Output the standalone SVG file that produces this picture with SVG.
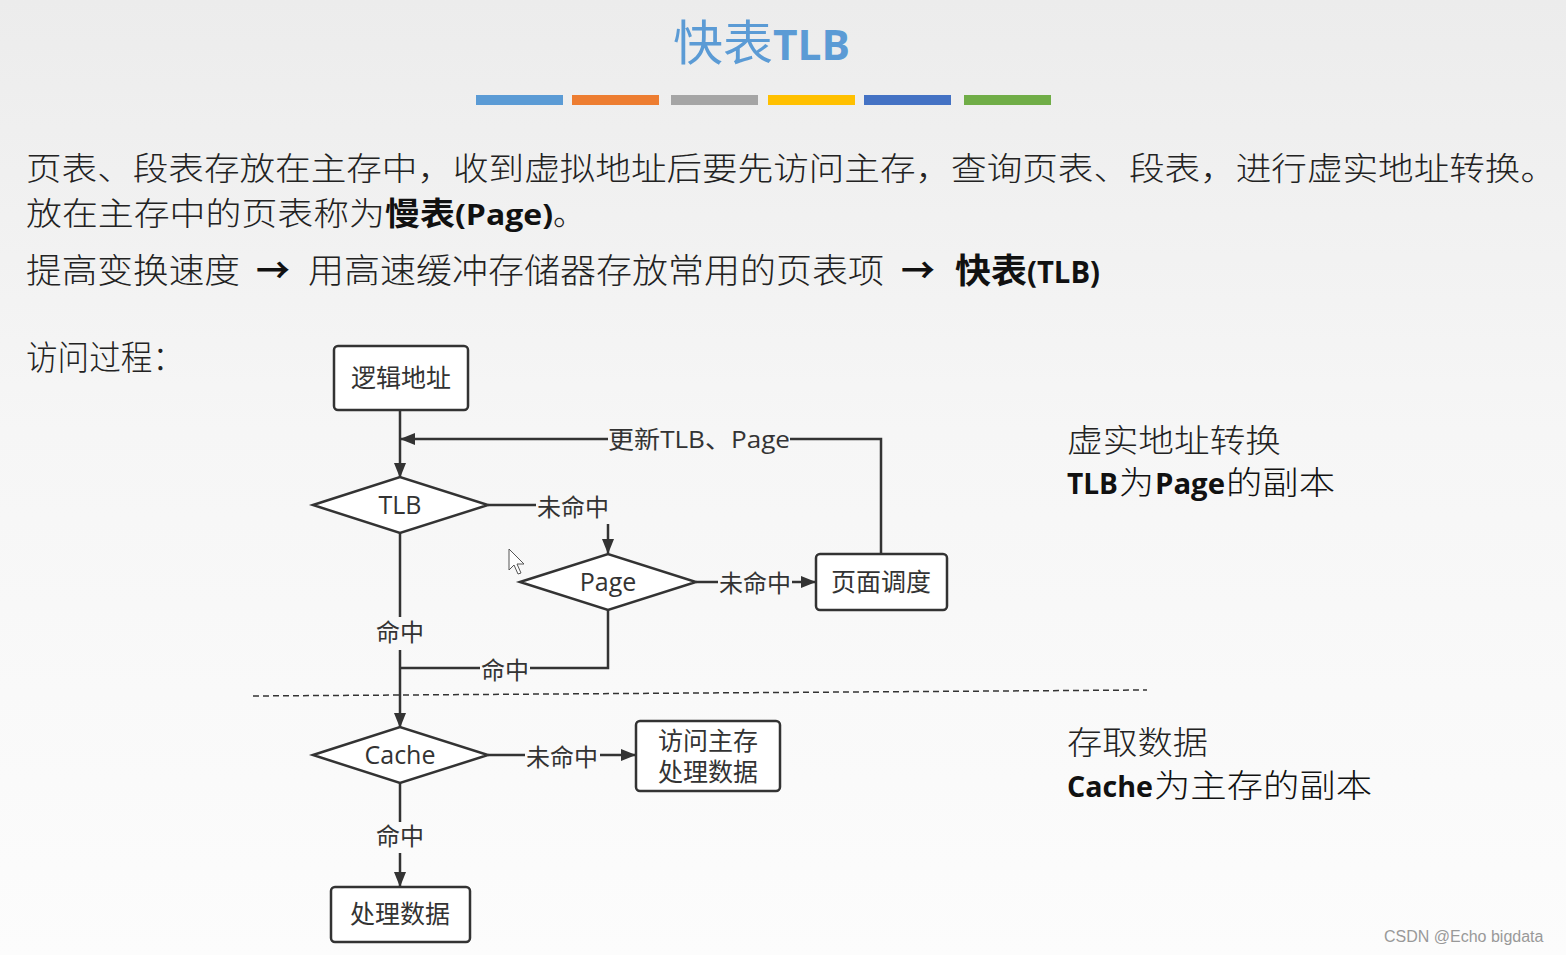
<svg xmlns="http://www.w3.org/2000/svg" width="1566" height="955" viewBox="0 0 1566 955">
<defs>
<linearGradient id="bg" x1="0" y1="0" x2="0" y2="1">
<stop offset="0" stop-color="#ececec"/>
<stop offset="0.45" stop-color="#f6f6f6"/>
<stop offset="1" stop-color="#fcfcfc"/>
</linearGradient>
<marker id="arr" viewBox="0 0 15 12" refX="14" refY="6" markerWidth="15" markerHeight="12" markerUnits="userSpaceOnUse" orient="auto">
<path d="M0,0 L15,6 L0,12 Z" fill="#333"/>
</marker>
</defs>
<style>
.cn{font-family:"Noto Sans CJK SC",sans-serif;fill:#222;font-weight:300}
.bd{font-family:"Open Sans","Noto Sans CJK SC",sans-serif;font-weight:700;fill:#111}
.dg{font-family:"Open Sans","Noto Sans CJK SC",sans-serif;fill:#333}
.box{fill:#fff;stroke:#333;stroke-width:2.5}
.ln{fill:none;stroke:#333;stroke-width:2.5}
.lbl{font-size:24px;text-anchor:middle}
.nd{font-size:25px;text-anchor:middle}
</style>
<rect width="1566" height="955" fill="url(#bg)"/>

<g id="title">
<text x="673" y="60" font-family="Noto Sans CJK SC,sans-serif" font-size="48" fill="#5b9bd5" textLength="100" lengthAdjust="spacingAndGlyphs">快表</text>
<text x="773" y="60" font-family="Open Sans,sans-serif" font-weight="700" font-size="42" fill="#5b9bd5" textLength="77" lengthAdjust="spacingAndGlyphs">TLB</text>
</g>
<g id="bars">
<rect x="476" y="95" width="87" height="10" fill="#5b9bd5"/>
<rect x="572" y="95" width="87" height="10" fill="#ed7d31"/>
<rect x="671" y="95" width="87" height="10" fill="#a5a5a5"/>
<rect x="768" y="95" width="87" height="10" fill="#ffc000"/>
<rect x="864" y="95" width="87" height="10" fill="#4472c4"/>
<rect x="964" y="95" width="87" height="10" fill="#70ad47"/>
</g>

<g id="intro">
<text class="cn" x="26" y="180" font-size="32" textLength="1530" lengthAdjust="spacingAndGlyphs">页表、段表存放在主存中，收到虚拟地址后要先访问主存，查询页表、段表，进行虚实地址转换。</text>
<text class="cn" x="26" y="225" font-size="32" textLength="359" lengthAdjust="spacingAndGlyphs">放在主存中的页表称为</text>
<text class="cn" x="385" y="225" font-size="32" style="font-weight:700;fill:#111" textLength="70" lengthAdjust="spacingAndGlyphs">慢表</text>
<text class="bd" x="455" y="225" font-size="29" textLength="98" lengthAdjust="spacingAndGlyphs">(Page)</text>
<text class="cn" x="553" y="225" font-size="32">。</text>
<text class="cn" x="26" y="283" font-size="34" textLength="214" lengthAdjust="spacingAndGlyphs">提高变换速度</text>
<text class="bd" x="256" y="283" font-size="34">→</text>
<text class="cn" x="308" y="283" font-size="34" textLength="576" lengthAdjust="spacingAndGlyphs">用高速缓冲存储器存放常用的页表项</text>
<text class="bd" x="901" y="283" font-size="34">→</text>
<text class="cn" x="955" y="283" font-size="34" style="font-weight:700;fill:#111" textLength="72" lengthAdjust="spacingAndGlyphs">快表</text>
<text class="bd" x="1027" y="283" font-size="30" textLength="73" lengthAdjust="spacingAndGlyphs">(TLB)</text>
<text class="cn" x="26" y="370" font-size="34" textLength="158" lengthAdjust="spacingAndGlyphs">访问过程：</text>
</g>

<g id="notes">
<text class="cn" x="1067" y="452" font-size="32" textLength="214" lengthAdjust="spacingAndGlyphs">虚实地址转换</text>
<text class="bd" x="1067" y="494" font-size="29" textLength="51" lengthAdjust="spacingAndGlyphs">TLB</text>
<text class="cn" x="1119" y="494" font-size="32" style="fill:#111" textLength="35" lengthAdjust="spacingAndGlyphs">为</text>
<text class="bd" x="1155" y="494" font-size="29" textLength="70" lengthAdjust="spacingAndGlyphs">Page</text>
<text class="cn" x="1226" y="494" font-size="32" style="fill:#111" textLength="109" lengthAdjust="spacingAndGlyphs">的副本</text>
<text class="cn" x="1067" y="754" font-size="32" textLength="141" lengthAdjust="spacingAndGlyphs">存取数据</text>
<text class="bd" x="1067" y="797" font-size="29" textLength="86" lengthAdjust="spacingAndGlyphs">Cache</text>
<text class="cn" x="1154" y="797" font-size="32" style="fill:#111" textLength="218" lengthAdjust="spacingAndGlyphs">为主存的副本</text>
</g>

<g id="connectors">
<line class="ln" x1="400" y1="410" x2="400" y2="477" marker-end="url(#arr)"/>
<polyline class="ln" points="881,554 881,439 790,439"/>
<line class="ln" x1="608" y1="439" x2="401" y2="439" marker-end="url(#arr)"/>
<text class="dg lbl" x="699" y="448" textLength="182" lengthAdjust="spacingAndGlyphs">更新TLB、Page</text>
<line class="ln" x1="488" y1="505" x2="536" y2="505"/>
<text class="dg lbl" x="573" y="516">未命中</text>
<line class="ln" x1="608" y1="524" x2="608" y2="553" marker-end="url(#arr)"/>
<line class="ln" x1="696" y1="582" x2="718" y2="582"/>
<text class="dg lbl" x="755" y="592">未命中</text>
<line class="ln" x1="792" y1="582" x2="815" y2="582" marker-end="url(#arr)"/>
<polyline class="ln" points="608,610 608,668 530,668"/>
<line class="ln" x1="480" y1="668" x2="400" y2="668"/>
<text class="dg lbl" x="505" y="679">命中</text>
<line class="ln" x1="400" y1="533" x2="400" y2="617"/>
<text class="dg lbl" x="400" y="641">命中</text>
<line class="ln" x1="400" y1="650" x2="400" y2="727" marker-end="url(#arr)"/>
<line x1="253" y1="696" x2="1147" y2="690" stroke="#333" stroke-width="1.5" stroke-dasharray="6 4"/>
<line class="ln" x1="488" y1="755" x2="525" y2="755"/>
<text class="dg lbl" x="562" y="766">未命中</text>
<line class="ln" x1="600" y1="755" x2="635" y2="755" marker-end="url(#arr)"/>
<line class="ln" x1="400" y1="783" x2="400" y2="822"/>
<text class="dg lbl" x="400" y="845">命中</text>
<line class="ln" x1="400" y1="853" x2="400" y2="886" marker-end="url(#arr)"/>
</g>

<g id="n-logic">
<rect class="box" x="334" y="346" width="134" height="64" rx="4"/>
<text class="dg nd" x="401" y="387">逻辑地址</text>
</g>
<g id="n-tlb">
<polygon class="box" points="313,505 400,477 488,505 400,533"/>
<text class="dg nd" x="400" y="514">TLB</text>
</g>
<g id="n-page">
<polygon class="box" points="520,582 608,554 696,582 608,610"/>
<text class="dg nd" x="608" y="591">Page</text>
</g>
<g id="n-sched">
<rect class="box" x="816" y="554" width="131" height="56" rx="4"/>
<text class="dg nd" x="881" y="591">页面调度</text>
</g>
<g id="n-cache">
<polygon class="box" points="313,755 400,727 488,755 400,783"/>
<text class="dg nd" x="400" y="764">Cache</text>
</g>
<g id="n-mem">
<rect class="box" x="636" y="721" width="144" height="70" rx="4"/>
<text class="dg nd" x="708" y="750">访问主存</text>
<text class="dg nd" x="708" y="781">处理数据</text>
</g>
<g id="n-proc">
<rect class="box" x="331" y="887" width="139" height="55" rx="4"/>
<text class="dg nd" x="400" y="923">处理数据</text>
</g>

<g id="cursor">
<path d="M509,549 L509,570 L514,565 L518,574 L521,573 L517,564 L524,564 Z" fill="#fff" stroke="#555" stroke-width="1"/>
</g>

<text x="1384" y="942" font-family="Liberation Sans,sans-serif" font-size="16" fill="#999">CSDN @Echo bigdata</text>
</svg>
